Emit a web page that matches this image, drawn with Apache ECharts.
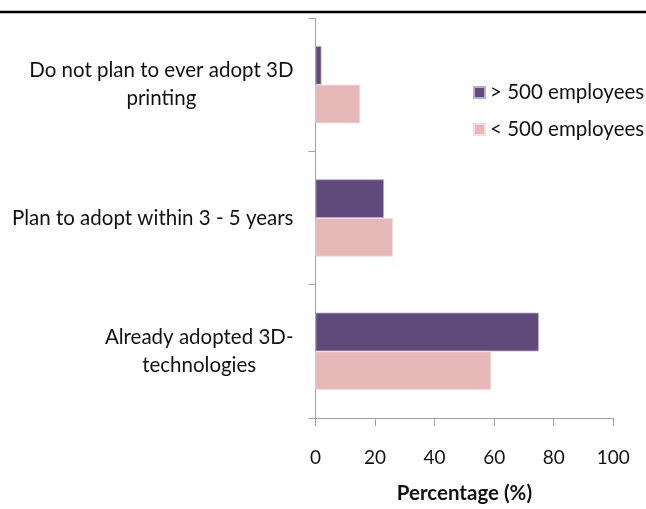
<!DOCTYPE html>
<html>
<head>
<meta charset="utf-8">
<script src="https://cdn.jsdelivr.net/npm/echarts@6/dist/echarts.min.js"></script>
<style>
  html, body { margin: 0; padding: 0; background: #fff; overflow: hidden; }
  #chart { width: 100vw; height: 100vh; }
</style>
</head>
<body>
<div id="chart"></div>
<script>
// Adoption status, listed bottom-to-top along the category axis
const categories = [
  'Already adopted 3D-\ntechnologies',
  'Plan to adopt within 3 - 5 years',
  'Do not plan to ever adopt 3D\nprinting'
];
const seriesNames = ['> 500 employees', '< 500 employees'];
const largeFirms = [75, 23, 2];   // > 500 employees (%)
const smallFirms = [59, 26, 15];  // < 500 employees (%)
const xTicks = [0, 20, 40, 60, 80, 100];

const FONT = 'Lato';
const AXIS_GREY = '#a0a0a0';
const INK = '#111';

const chart = echarts.init(document.getElementById('chart'), null, { renderer: 'canvas' });

chart.setOption({
  backgroundColor: '#ffffff',
  animation: false,
  textStyle: { fontFamily: FONT, color: INK },
  grid: { left: 315.5, right: 32.7, top: 18, bottom: 80, containLabel: false },
  legend: {
    orient: 'vertical',
    left: 468,
    top: 77,
    icon: 'rect',
    itemWidth: 11,
    itemHeight: 11,
    itemGap: 16,
    data: seriesNames,
    textStyle: { fontFamily: FONT, fontSize: 20.5, color: INK, padding: [0, 0, 0, 0] }
  },
  xAxis: {
    type: 'value',
    min: xTicks[0],
    max: xTicks[xTicks.length - 1],
    interval: xTicks[1] - xTicks[0],
    name: 'Percentage (%)',
    nameLocation: 'middle',
    nameGap: 65,
    nameTextStyle: { fontFamily: FONT, fontSize: 20.5, fontWeight: 'bold', color: INK },
    axisLine: { show: true, lineStyle: { color: AXIS_GREY, width: 1 } },
    axisTick: { show: true, length: 8, lineStyle: { color: AXIS_GREY } },
    splitLine: { show: false },
    axisLabel: { fontFamily: FONT, fontSize: 19, color: INK, margin: 30 }
  },
  yAxis: {
    type: 'category',
    data: categories,
    axisLine: { show: true, lineStyle: { color: AXIS_GREY, width: 1 } },
    axisTick: { show: true, length: 7, lineStyle: { color: AXIS_GREY } },
    axisLabel: {
      margin: 22,
      align: 'right',
      fontFamily: FONT,
      fontSize: 20.5,
      color: INK,
      lineHeight: 28,
      formatter: (v) => v.split('\n').map(s => '{c|' + s + '}').join('\n'),
      rich: { c: { align: 'center', fontFamily: FONT, fontSize: 20.5, lineHeight: 28, color: INK } }
    }
  },
  graphic: [{
    type: 'line',
    shape: { x1: 0, y1: 12, x2: 646, y2: 12 },
    style: { stroke: '#000', lineWidth: 2.5 },
    silent: true
  }],
  series: [
    {
      name: seriesNames[0],
      type: 'bar',
      data: largeFirms,
      barGap: '0%',
      barCategoryGap: '42%',
      itemStyle: { color: '#604a7b', borderColor: '#b9abcf', borderWidth: 0.8 }
    },
    {
      name: seriesNames[1],
      type: 'bar',
      data: smallFirms,
      barGap: '0%',
      barCategoryGap: '42%',
      itemStyle: { color: '#e6b9b8', borderColor: '#f3dede', borderWidth: 0.8 }
    }
  ]
});
window.addEventListener('resize', () => chart.resize());
</script>
</body>
</html>
